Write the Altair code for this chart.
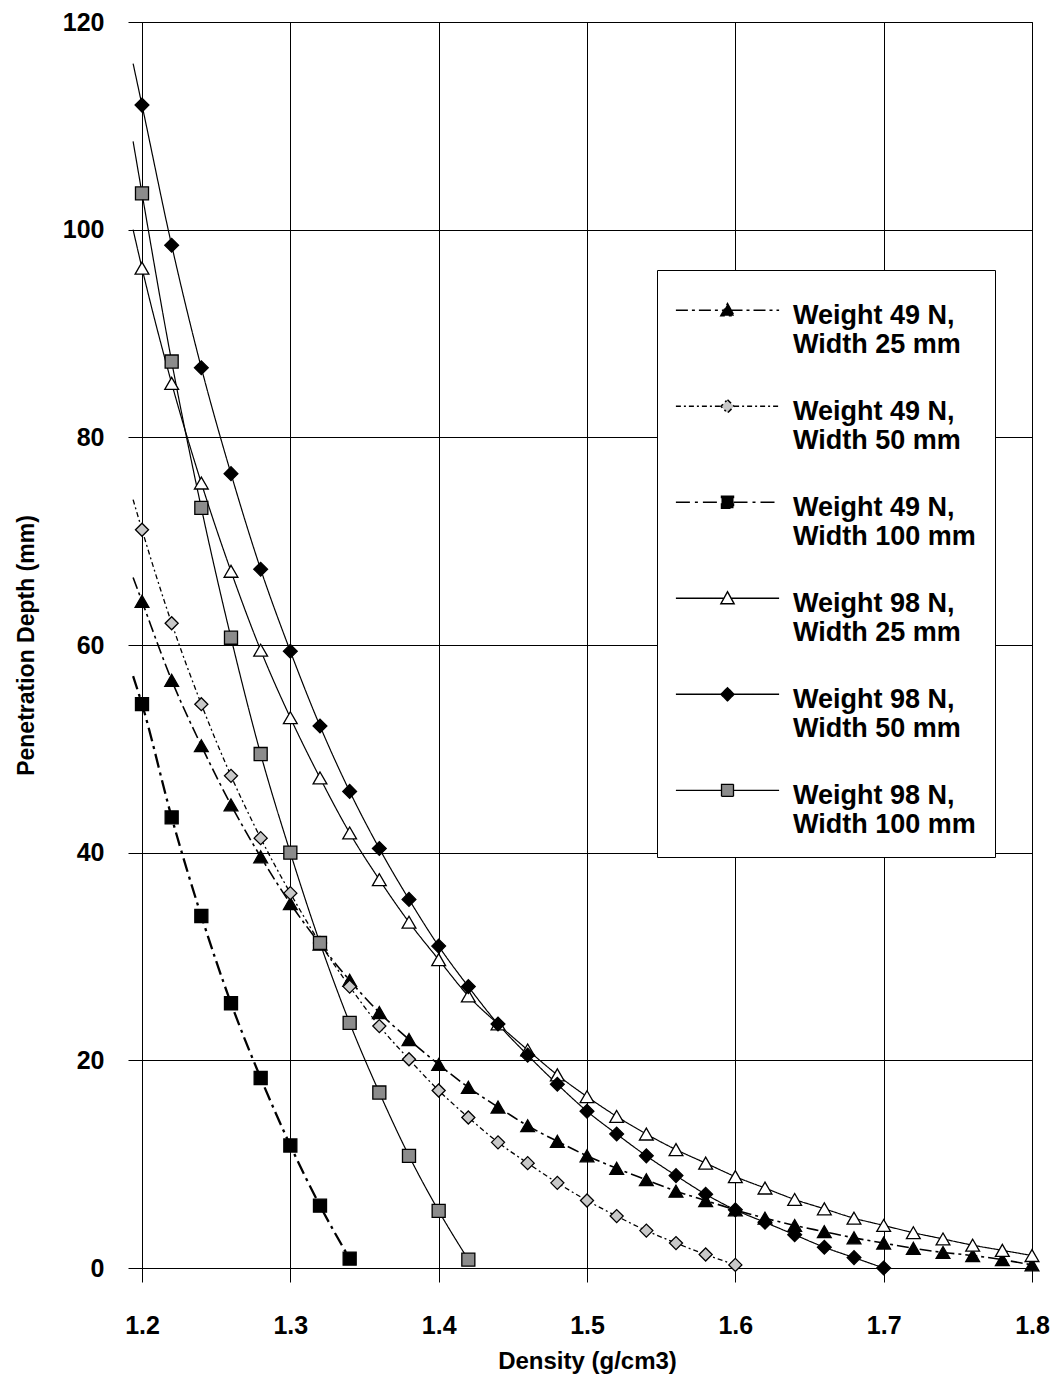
import altair as alt
import pandas as pd

SERIES = [
    "Weight 49 N, Width 25 mm",
    "Weight 49 N, Width 50 mm",
    "Weight 49 N, Width 100 mm",
    "Weight 98 N, Width 25 mm",
    "Weight 98 N, Width 50 mm",
    "Weight 98 N, Width 100 mm",
]

DENSITY = [1.20, 1.22, 1.24, 1.26, 1.28, 1.30, 1.32, 1.34, 1.36, 1.38, 1.40,
           1.42, 1.44, 1.46, 1.48, 1.50, 1.52, 1.54, 1.56, 1.58, 1.60,
           1.62, 1.64, 1.66, 1.68, 1.70, 1.72, 1.74, 1.76, 1.78, 1.80]

W49_25 = [64.2, 56.6, 50.3, 44.6, 39.6, 35.1, 31.2, 27.7, 24.6, 22.0, 19.6,
          17.4, 15.5, 13.7, 12.2, 10.8, 9.6, 8.5, 7.4, 6.5, 5.6,
          4.8, 4.1, 3.5, 2.9, 2.4, 1.9, 1.5, 1.2, 0.8, 0.3]
W49_50 = [71.1, 62.1, 54.3, 47.4, 41.4, 36.1, 31.3, 27.1, 23.3, 20.1, 17.1,
          14.5, 12.1, 10.1, 8.2, 6.5, 5.0, 3.6, 2.4, 1.3, 0.3]
W49_100 = [54.3, 43.4, 33.9, 25.5, 18.3, 11.8, 6.0, 0.9]
W98_25 = [96.3, 85.2, 75.6, 67.1, 59.5, 53.0, 47.2, 41.9, 37.4, 33.3, 29.7,
          26.2, 23.5, 21.0, 18.6, 16.5, 14.6, 12.9, 11.4, 10.1, 8.8,
          7.7, 6.6, 5.7, 4.8, 4.1, 3.4, 2.8, 2.2, 1.7, 1.2]
W98_50 = [112.0, 98.5, 86.7, 76.5, 67.3, 59.4, 52.2, 45.9, 40.4, 35.5, 31.0,
          27.1, 23.5, 20.5, 17.7, 15.1, 12.9, 10.8, 8.9, 7.1, 5.6,
          4.4, 3.2, 2.0, 1.0, 0.0]
W98_100 = [103.5, 87.3, 73.2, 60.7, 49.5, 40.0, 31.3, 23.6, 16.9, 10.8, 5.5, 0.8]

VALUES = [W49_25, W49_50, W49_100, W98_25, W98_50, W98_100]

# curves are drawn slightly beyond the first measured density
CURVE_START_X = [1.194, 1.194, 1.194, 1.194, 1.194, 1.194]
CURVE_START_Y = [66.5, 74.0, 57.0, 100.0, 116.0, 108.5]

X_TICKS = [1.2, 1.3, 1.4, 1.5, 1.6, 1.7, 1.8]
Y_TICKS = [0, 20, 40, 60, 80, 100, 120]

# styles
DASHES = [[12, 4, 3, 4], [5, 3, 2, 3], [14, 5, 3, 5], [1, 0], [1, 0], [1, 0]]
WIDTHS = [1.6, 1.3, 2.3, 1.2, 1.2, 1.2]
SHAPES = ["triangle-up", "diamond", "square", "triangle-up", "diamond", "square"]
FILLS = ["black", "#c8c8c8", "black", "white", "black", "#8c8c8c"]
SIZES = [190, 170, 170, 190, 190, 170]

# legend symbols: a line sample with the marker in its middle
TRI = "M-8.6,1.3H-0.5M0.5,1.3H8.6M0,0.2L1.1,2.2L-1.1,2.2Z"
DIA = "M-8.6,1.3H-1.1M1.1,1.3H8.6M0,0.2L1.1,1.3L0,2.4L-1.1,1.3Z"
SQR = "M-8.6,1.3H-1M1,1.3H8.6M-1,0.3H1V2.3H-1Z"
LEGEND_PATHS = [TRI, DIA, SQR, TRI, DIA, SQR]

FONT = "Liberation Sans"

pts_rows, line_rows = [], []
for i, (name, vals) in enumerate(zip(SERIES, VALUES)):
    line_rows.append({"series": name, "density": CURVE_START_X[i], "depth": CURVE_START_Y[i]})
    for d, v in zip(DENSITY, vals):
        pts_rows.append({"series": name, "density": d, "depth": v})
        line_rows.append({"series": name, "density": d, "depth": v})
pts = pd.DataFrame(pts_rows)
lines = pd.DataFrame(line_rows)

xscale = alt.Scale(domain=[1.2, 1.8], nice=False, zero=False)
yscale = alt.Scale(domain=[0, 120], nice=False)

X = alt.X("density:Q", scale=xscale,
          axis=alt.Axis(values=X_TICKS, format=".1f", title="Density (g/cm3)"))
Y = alt.Y("depth:Q", scale=yscale,
          axis=alt.Axis(values=Y_TICKS, title="Penetration Depth (mm)"))

layers = []
for i, name in enumerate(SERIES):
    layers.append(
        alt.Chart(lines).transform_filter(alt.datum.series == name)
        .mark_line(color="black", strokeDash=DASHES[i], strokeWidth=WIDTHS[i],
                   interpolate="monotone")
        .encode(x=X, y=Y, order="density:Q")
    )
for i, name in enumerate(SERIES):
    layers.append(
        alt.Chart(pts).transform_filter(alt.datum.series == name)
        .mark_point(shape=SHAPES[i], fill=FILLS[i], stroke="black",
                    strokeWidth=1.3, size=SIZES[i], opacity=1, filled=True)
        .encode(x=X, y=Y)
    )

legend = alt.Legend(
    title=None, orient="none", legendX=515, legendY=248,
    padding=19, strokeColor="black", fillColor="white",
    symbolSize=144, symbolOffset=38, labelOffset=52,
    labelFontSize=27, labelFont=FONT, labelFontWeight="bold",
    labelColor="black", labelLimit=0, rowPadding=27,
    labelBaseline="top",
    labelExpr="[split(datum.label, ', ')[0] + ',', split(datum.label, ', ')[1]]",
)

legend_layer = (
    alt.Chart(pts).transform_filter("false")
    .mark_point(stroke="black", opacity=1, filled=True)
    .encode(
        x=X, y=Y,
        shape=alt.Shape("series:N", scale=alt.Scale(domain=SERIES, range=LEGEND_PATHS), legend=legend),
        fill=alt.Fill("series:N", scale=alt.Scale(domain=SERIES, range=FILLS), legend=legend),
        strokeDash=alt.StrokeDash("series:N", scale=alt.Scale(domain=SERIES, range=DASHES), legend=legend),
        strokeWidth=alt.StrokeWidth("series:N", scale=alt.Scale(domain=SERIES, range=WIDTHS), legend=legend),
    )
)
layers.append(legend_layer)

chart = (
    alt.layer(*layers)
    .properties(
        width=890, height=1246,
        padding={"left": 142, "top": 22, "right": 27, "bottom": 118},
        autosize=alt.AutoSizeParams(type="none"),
    )
    .configure_view(stroke="black", strokeWidth=1)
    .configure_axis(
        grid=True, gridColor="black", gridOpacity=1, gridWidth=1,
        domainColor="black", domainWidth=1, tickColor="black", tickSize=14, tickWidth=1,
        labelFont=FONT, labelFontSize=25, labelFontWeight="bold", labelColor="black",
        labelFlush=False,
        titleFont=FONT, titleFontWeight="bold", titleColor="black",
    )
    .configure_axisX(labelPadding=31, titlePadding=11, titleFontSize=24)
    .configure_axisY(labelPadding=24, titlePadding=24, titleFontSize=23)
)

chart.save("out.html", embed_options={"renderer": "svg", "actions": False})
